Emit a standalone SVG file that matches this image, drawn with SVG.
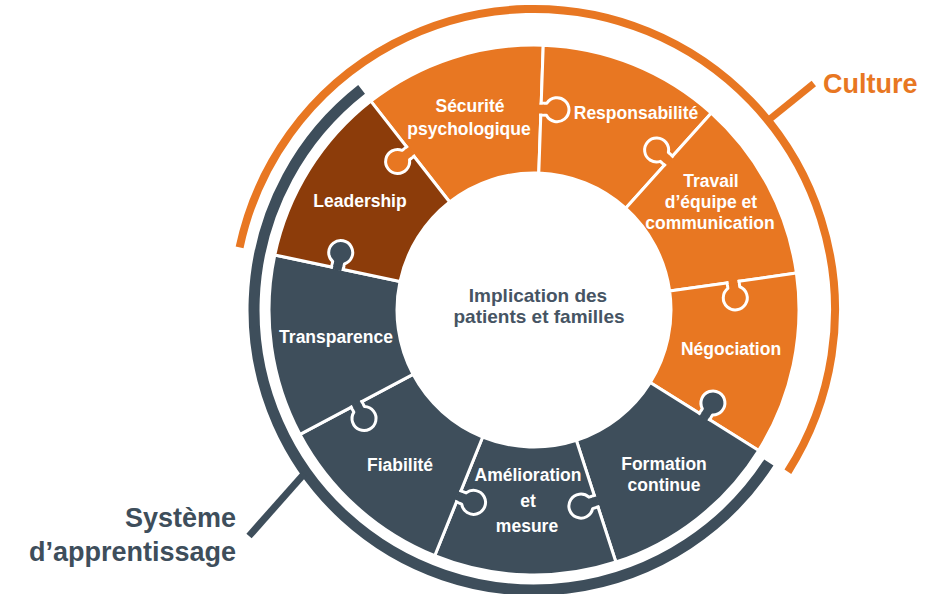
<svg xmlns="http://www.w3.org/2000/svg" width="927" height="594" viewBox="0 0 927 594">
  <defs>
    <style>
      .orange { fill: #E87722; }
      .brown { fill: #8C3C0A; }
      .slate { fill: #3E4E5B; }
      .piece { stroke: #FFFFFF; stroke-width: 3; stroke-linejoin: round; }
      .lbl { font-family: "Liberation Sans", Arial, sans-serif; font-weight: bold; font-size: 17.5px; fill: #FFFFFF; text-anchor: middle; }
      .core { font-family: "Liberation Sans", Arial, sans-serif; font-weight: bold; font-size: 19px; fill: #465463; text-anchor: middle; }
      .title { font-family: "Liberation Sans", Arial, sans-serif; font-weight: bold; font-size: 27px; }
      .band { fill: none; stroke-linecap: butt; }
    </style>
    <!-- puzzle tab, seam along -y axis, bulging toward +x -->
    <path id="tab" d="M 0,-195 L 5.6,-195 A 12 12 0 1 0 5.6,-207 L 0,-207 Z"/>
    <rect id="neck" x="-2.2" y="-205.4" width="5" height="8.8"/>
  </defs>
  <rect width="927" height="594" fill="#FFFFFF"/>

  <!-- outer bands -->
  <g id="connectors">
    <path class="band" d="M 239.59,247.42 A 301 301 0 1 1 787.86,471.73" stroke="#E87722" stroke-width="8"/>
    <path class="band" d="M 768.84,462.49 A 280 280 0 1 1 361.60,89.36" stroke="#3E4E5B" stroke-width="11"/>
    <line x1="767.9" y1="120.6" x2="813.8" y2="83.5" stroke="#E87722" stroke-width="7"/>
    <line x1="304" y1="474" x2="249" y2="536" stroke="#3E4E5B" stroke-width="7"/>
  </g>

  <!-- ring pieces -->
  <g id="securite"><path class="piece orange" d="M 370.84,101.18 A 265 265 0 0 1 543.25,45.16 L 538.78,173.08 A 137 137 0 0 0 449.65,202.04 Z"/></g>
  <g id="responsabilite"><path class="piece orange" d="M 543.25,45.16 A 265 265 0 0 1 711.31,113.08 L 625.67,208.20 A 137 137 0 0 0 538.78,173.08 Z"/></g>
  <g id="travail"><path class="piece orange" d="M 711.31,113.08 A 265 265 0 0 1 796.43,273.11 L 669.67,290.93 A 137 137 0 0 0 625.67,208.20 Z"/></g>
  <g id="negociation"><path class="piece orange" d="M 796.43,273.11 A 265 265 0 0 1 758.72,450.42 L 650.18,382.60 A 137 137 0 0 0 669.67,290.93 Z"/></g>
  <g id="formation"><path class="piece slate" d="M 758.72,450.42 A 265 265 0 0 1 615.89,562.04 L 576.33,440.30 A 137 137 0 0 0 650.18,382.60 Z"/></g>
  <g id="amelioration"><path class="piece slate" d="M 615.89,562.04 A 265 265 0 0 1 434.73,555.71 L 482.68,437.03 A 137 137 0 0 0 576.33,440.30 Z"/></g>
  <g id="fiabilite"><path class="piece slate" d="M 434.73,555.71 A 265 265 0 0 1 300.03,434.42 L 413.04,374.32 A 137 137 0 0 0 482.68,437.03 Z"/></g>
  <g id="transparence"><path class="piece slate" d="M 300.03,434.42 A 265 265 0 0 1 274.80,254.91 L 400.00,281.52 A 137 137 0 0 0 413.04,374.32 Z"/></g>
  <g id="leadership"><path class="piece brown" d="M 274.80,254.91 A 265 265 0 0 1 370.84,101.18 L 449.65,202.04 A 137 137 0 0 0 400.00,281.52 Z"/></g>

  <!-- interlocking tabs on each seam -->
  <g id="tabs">
    <g transform="translate(534,310) rotate(2)" class="orange"><use href="#tab" class="piece"/><use href="#neck"/></g>
    <g transform="translate(534,310) rotate(42) scale(-1,1)" class="orange"><use href="#tab" class="piece"/><use href="#neck"/></g>
    <g transform="translate(534,310) rotate(82)" class="orange"><use href="#tab" class="piece"/><use href="#neck"/></g>
    <g transform="translate(534,310) rotate(122) scale(-1,1)" class="slate"><use href="#tab" class="piece"/><use href="#neck"/></g>
    <g transform="translate(534,310) rotate(162)" class="slate"><use href="#tab" class="piece"/><use href="#neck"/></g>
    <g transform="translate(534,310) rotate(202) scale(-1,1)" class="slate"><use href="#tab" class="piece"/><use href="#neck"/></g>
    <g transform="translate(534,310) rotate(242) scale(-1,1)" class="slate"><use href="#tab" class="piece"/><use href="#neck"/></g>
    <g transform="translate(534,310) rotate(282)" class="slate"><use href="#tab" class="piece"/><use href="#neck"/></g>
    <g transform="translate(534,310) rotate(322) scale(-1,1)" class="orange"><use href="#tab" class="piece"/><use href="#neck"/></g>
  </g>

  <!-- labels -->
  <g id="labels">
    <text class="lbl" x="470" y="112">Sécurité</text>
    <text class="lbl" x="469" y="135">psychologique</text>
    <text class="lbl" x="636" y="119">Responsabilité</text>
    <text class="lbl" x="711" y="187">Travail</text>
    <text class="lbl" x="711" y="208">d’équipe et</text>
    <text class="lbl" x="710" y="229">communication</text>
    <text class="lbl" x="731" y="355">Négociation</text>
    <text class="lbl" x="664" y="470">Formation</text>
    <text class="lbl" x="664" y="491">continue</text>
    <text class="lbl" x="528" y="481">Amélioration</text>
    <text class="lbl" x="528" y="507">et</text>
    <text class="lbl" x="527" y="532">mesure</text>
    <text class="lbl" x="400" y="471">Fiabilité</text>
    <text class="lbl" x="336" y="343">Transparence</text>
    <text class="lbl" x="360" y="207">Leadership</text>
  </g>

  <g id="center">
    <text class="core" x="538" y="302">Implication des</text>
    <text class="core" x="539" y="323">patients et familles</text>
  </g>

  <g id="culture-title"><text class="title" x="823" y="93" fill="#E87722">Culture</text></g>
  <g id="systeme-title">
    <text class="title" x="236" y="527" fill="#3E4E5B" text-anchor="end">Système</text>
    <text class="title" x="236" y="561" fill="#3E4E5B" text-anchor="end">d’apprentissage</text>
  </g>
</svg>
